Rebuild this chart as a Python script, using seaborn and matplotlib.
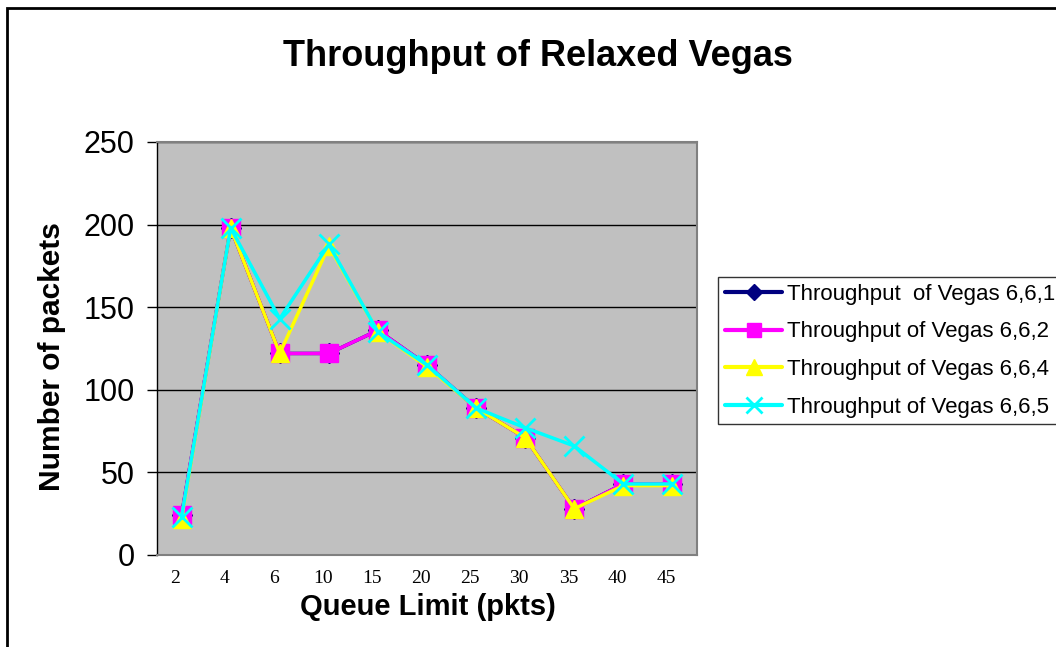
import matplotlib
matplotlib.use("Agg")
import matplotlib.pyplot as plt
import matplotlib.transforms as mtransforms
import seaborn as sns
import pandas as pd
from matplotlib.patches import Rectangle

queue_limits = ["2", "4", "6", "10", "15", "20", "25", "30", "35", "40", "45"]
vegas_661 = [24, 198, 122, 122, 136, 115, 89, 71, 28, 43, 43]
vegas_662 = [24, 198, 122, 122, 136, 115, 89, 71, 28, 43, 43]
vegas_664 = [22, 198, 122, 187, 135, 114, 89, 71, 28, 42, 42]
vegas_665 = [23, 198, 143, 188, 135, 115, 89, 77, 66, 43, 43]

series_names = ["Throughput  of Vegas 6,6,1", "Throughput of Vegas 6,6,2",
                "Throughput of Vegas 6,6,4", "Throughput of Vegas 6,6,5"]
series_values = [vegas_661, vegas_662, vegas_664, vegas_665]
colors = ["#000080", "#FF00FF", "#FFFF00", "#00FFFF"]
markers = ["D", "s", "^", "x"]
msizes = [10, 12.5, 13, 14]

rows = []
for name, vals in zip(series_names, series_values):
    for q, v in zip(queue_limits, vals):
        rows.append({"Queue Limit": q, "Packets": v, "Series": name})
df = pd.DataFrame(rows)

sns.set_theme(style="white")
plt.rcParams["font.family"] = ["Liberation Sans", "DejaVu Sans"]
plt.rcParams["text.color"] = "black"
plt.rcParams["axes.labelcolor"] = "black"
plt.rcParams["xtick.color"] = "black"
plt.rcParams["ytick.color"] = "black"

fig = plt.figure(figsize=(10.56, 6.47), dpi=100)
fig.patch.set_facecolor("white")
ax = fig.add_axes([157/1056, 1-555/647, 540/1056, 413/647])
ax.set_facecolor("#C0C0C0")

for name, col, mk, ms in zip(series_names, colors, markers, msizes):
    sub = df[df["Series"] == name]
    sns.lineplot(data=sub, x="Queue Limit", y="Packets", ax=ax, color=col,
                 marker=mk, markersize=ms, linewidth=2.5, label=name,
                 markeredgecolor=col, markeredgewidth=2 if mk == "x" else 1,
                 sort=False, legend=False)

ax.set_xlim(-0.5, 10.5)
ax.set_ylim(0, 250)
ax.set_yticks([0, 50, 100, 150, 200, 250])
ax.yaxis.grid(True, color="black", linewidth=1)
ax.xaxis.grid(False)
ax.set_axisbelow(True)
for s in ["top", "right", "bottom"]:
    ax.spines[s].set_color("#808080")
    ax.spines[s].set_linewidth(1.5)
ax.spines["left"].set_color("black")
ax.spines["left"].set_linewidth(1)
ax.tick_params(axis="y", which="both", left=True, length=7, width=1,
               color="black", labelsize=22, pad=9, labelcolor="black")
ax.tick_params(axis="x", bottom=False, length=0, pad=11, labelcolor="black")
shift = mtransforms.ScaledTranslation(-6/100, 0, fig.dpi_scale_trans)
for lab in ax.get_xticklabels():
    lab.set_fontfamily("Liberation Serif")
    lab.set_fontsize(14)
    lab.set_transform(lab.get_transform() + shift)

ax.set_xlabel("")
ax.set_ylabel("")
fig.text(428/1056, 1-607/647, "Queue Limit (pkts)", ha="center", va="center",
         fontsize=21, fontweight="bold", color="black")
fig.text(52/1056, 1-357/647, "Number of packets", rotation=90, ha="center",
         va="center", fontsize=21.5, fontweight="bold", color="black")

fig.text(538/1056, 1-56/647, "Throughput of Relaxed Vegas", ha="center", va="center",
         fontsize=26, fontweight="bold", color="black")

handles, labels = [], []
for name, col, mk, ms in zip(series_names, colors, markers, msizes):
    h, = ax.plot([], [], color=col, marker=mk, markersize=ms * 0.85, linewidth=3,
                 markeredgecolor=col, markeredgewidth=2 if mk == "x" else 1)
    handles.append(h)
    labels.append(name)
leg = fig.legend(handles, labels, loc="upper left",
                 bbox_to_anchor=(718/1056, 1-277/647), frameon=True,
                 fancybox=False, edgecolor="black", fontsize=16,
                 handlelength=2.6, handletextpad=0.2, borderpad=0.3,
                 labelspacing=0.75, borderaxespad=0)
leg.get_frame().set_linewidth(1)
for t in leg.get_texts():
    t.set_color("black")

fig.patches.append(Rectangle((7/1056, -0.1), 1.2, 1-8/647+0.1,
                             transform=fig.transFigure, fill=False,
                             edgecolor="black", linewidth=2))

fig.savefig("out.png", dpi=100)
